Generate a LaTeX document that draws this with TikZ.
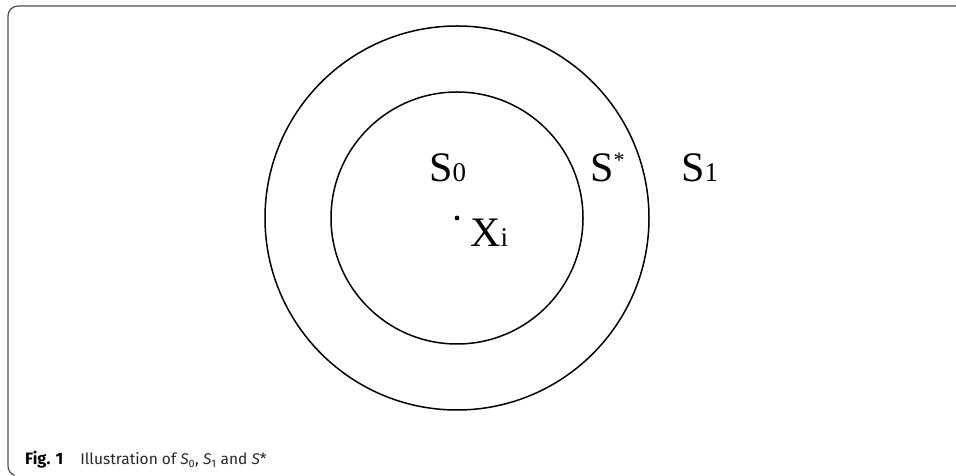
\documentclass[tikz,border=0pt]{standalone}
\usepackage{fontspec}
\setmainfont{Liberation Serif}
\newfontfamily\capfont{Fira Sans}
\begin{document}
\begin{tikzpicture}[
  x=1pt, y=1pt,
  fig1frame/.style = {line width=1.2pt, black!70},
  fig1ring/.style = {line width=1.5pt, black},
  fig1big/.style = {inner sep=0pt, anchor=base west, font=\fontsize{42}{42}\selectfont},
  fig1cap/.style = {inner sep=0pt, anchor=base west, font=\capfont\fontsize{15.5}{18}\selectfont}
]
  \useasboundingbox (0,0) rectangle (956,476);
  % frame
  \draw[fig1frame] (956,470) -- (18,470) arc[start angle=90, end angle=180, radius=10]
    -- (8,10) arc[start angle=180, end angle=250, radius=10];
  % rings
  \coordinate (c) at (457,258);
  \draw[fig1ring] (c) circle[radius=192];
  \draw[fig1ring] (c) circle[radius=126];
  \fill (c) circle[radius=2.4];
  % labels
  \node[fig1big] (s0) at (429,294) {S{\fontsize{27}{27}\selectfont 0}};
  \node[fig1big] (sstar) at (590,294) {S\raisebox{14pt}{\fontsize{22}{22}\selectfont *}};
  \node[fig1big] (s1) at (681,294) {S{\fontsize{27}{27}\selectfont 1}};
  \node[fig1big] (xi) at (470,229) {X{\fontsize{27}{27}\selectfont i}};
  % caption
  \node[fig1cap] (cap) at (25,11) {\textbf{\fontsize{16.5}{18}\selectfont Fig. 1}\hspace{1.1em}\textcolor{black!85}{Illustration of \textit{S}\textsubscript{0}, \textit{S}\textsubscript{1} and \textit{S}*}};
\end{tikzpicture}
\end{document}
